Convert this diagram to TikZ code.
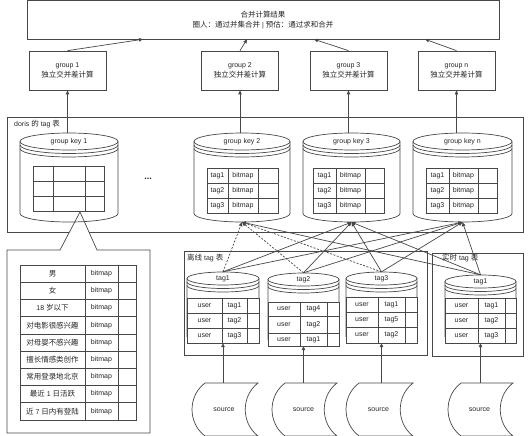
\documentclass[tikz,border=0pt]{standalone}
\usepackage{fontspec}
\setmainfont{Liberation Sans}
\newfontfamily\cjk[Scale=1.07]{Noto Sans CJK SC}
\newcommand{\zh}[1]{{\cjk #1}}
\usetikzlibrary{arrows.meta}

\tikzset{
  wire/.style={draw=black!72, line width=0.7pt},
  arr/.style={wire, -{Triangle[length=4pt,width=3.5pt]}},
  dasharr/.style={arr, dash pattern=on 2pt off 1.5pt},
  txt/.style={inner sep=0pt, font=\fontsize{7}{10}\selectfont, text=black!85},
  framed/.style={wire, txt, fill=white, align=center},
}

% cylinder: name, left, top, right, bottom, ry, label
\newcommand{\datastore}[7]{%
  \pgfmathsetmacro{\dsx}{(#2+#4)/2}
  \pgfmathsetmacro{\dsr}{(#4-#2)/2}
  \pgfmathsetmacro{\dsw}{#4-#2}
  \pgfmathsetmacro{\dsh}{#5-#3}
  \draw[wire] (#2,#3+#6) -- (#2,#5-#6) arc[start angle=180,end angle=0,x radius=\dsr,y radius=#6]
    -- (#4,#3+#6) arc[start angle=0,end angle=-180,x radius=\dsr,y radius=#6];
  \foreach \dso in {0,3.5,7}
    \draw[wire] (#2,#3+#6+\dso) arc[start angle=180,end angle=0,x radius=\dsr,y radius=#6];
  \node[inner sep=0pt,minimum width=\dsw pt,minimum height=\dsh pt] (#1) at ({\dsx},{(#3+#5)/2}) {};
  \node[txt] (#1-lbl) at ({\dsx},#3+#6) {#7};
}

% stored data: name, left, right
\newcommand{\sourceshape}[3]{%
  \draw[wire] (#2+13,383) -- (#3,383) .. controls (#3-17,396) and (#3-17,423) .. (#3,436)
    -- (#2+13,436) .. controls (#2-4.3,423) and (#2-4.3,396) .. (#2+13,383) -- cycle;
  \node[txt,minimum width=40pt,minimum height=53pt] (#1) at ({(#2+#3)/2-1},409.5) {source};
}

\begin{document}
\begin{tikzpicture}[x=1pt,y=-1pt]
\useasboundingbox (0,0) rectangle (528,436);

% result and groups
\node[framed,minimum width=472pt,minimum height=38.5pt] (res) at (263,20)
  {\zh{合并计算结果}\\\zh{圈人：通过并集合并} | \zh{预估：通过求和合并}};
\coordinate (res-1) at (143,39.25);
\coordinate (res-2) at (247,39.25);
\coordinate (res-3) at (314,39.25);
\coordinate (res-n) at (425,39.25);

\node[framed,minimum width=77pt,minimum height=39pt] (g1) at (67.5,70.5) {group 1\\\zh{独立交并差计算}};
\node[framed,minimum width=77pt,minimum height=39pt] (g2) at (240,70.5) {group 2\\\zh{独立交并差计算}};
\node[framed,minimum width=77pt,minimum height=39pt] (g3) at (348.5,70.5) {group 3\\\zh{独立交并差计算}};
\node[framed,minimum width=77pt,minimum height=39pt] (gn) at (456.5,70.5) {group n\\\zh{独立交并差计算}};

\draw[arr] (g1.north) -- (res-1);
\draw[arr] (g2.north) -- (res-2);
\draw[arr] (g3.north) -- (res-3);
\draw[arr] (gn.north) -- (res-n);

% doris tag table
\draw[wire] (7,117) rectangle (523,232);
\node[txt,anchor=west] (doris) at (14,124) {doris \zh{的} tag \zh{表}};

% callout with the tag list
\draw[wire,fill=white] (7,250) -- (60,250) -- (80,212) -- (97,250) -- (150,250)
  -- (150,433) -- (7,433) -- cycle;
\draw[wire] (20,265) rectangle (136,420);
\draw[wire] (85,265) -- (85,420) (118,265) -- (118,420);
\foreach \lab [count=\i] in {\zh{男},\zh{女},18 \zh{岁以下},\zh{对电影很感兴趣},\zh{对母婴不感兴趣},
    \zh{擅长情感类创作},\zh{常用登录地北京},\zh{最近} 1 \zh{日活跃},\zh{近} 7 \zh{日内有登陆}} {
  \draw[wire] (20,{265+17.22*\i}) -- (136,{265+17.22*\i});
  \node[txt] (attr\i) at (52.5,{256.4+17.22*\i}) {\lab};
  \node[txt] (bm\i) at (101.5,{256.4+17.22*\i}) {bitmap};
}

% group key cylinders
\datastore{gk1}{20}{133}{118}{222}{8.5}{group key 1}
\draw[wire] (33,166) rectangle (104,211);
\draw[wire] (53,166) -- (53,211) (85,166) -- (85,211) (33,181) -- (104,181) (33,196) -- (104,196);

\node[txt,font=\bfseries\fontsize{9}{10}\selectfont] (dots) at (148,179) {...};

\datastore{gk2}{194}{133}{290}{222}{8.5}{group key 2}
\datastore{gk3}{303}{133}{400}{222}{8.5}{group key 3}
\datastore{gkn}{413}{133}{512}{222}{8.5}{group key n}

\foreach \gk/\xa/\xb/\xc/\xd in {gk2/207/228/258/278,gk3/313/336/365/384,gkn/426/449/478/497} {
  \draw[wire] (\xa,168) rectangle (\xd,213);
  \draw[wire] (\xb,168) -- (\xb,213) (\xc,168) -- (\xc,213) (\xa,183) -- (\xd,183) (\xa,198) -- (\xd,198);
  \foreach \i in {1,2,3} {
    \node[txt] (\gk-t\i) at ({(\xa+\xb)/2},160.5+15*\i) {tag\i};
    \node[txt] (\gk-b\i) at ({(\xb+\xc)/2},160.5+15*\i) {bitmap};
  }
}

\foreach \g/\k in {g1/gk1,g2/gk2,g3/gk3,gn/gkn}
  \draw[arr] (\g.south |- \k.north) -- (\g.south);

% offline and realtime tag tables
\draw[wire] (184,251) rectangle (427,355);
\node[txt,anchor=west] (off) at (187,258) {\zh{离线} tag \zh{表}};
\draw[wire] (432,253) rectangle (523,356);
\node[txt,anchor=west] (rt) at (442,258) {\zh{实时} tag \zh{表}};

\datastore{tg1}{187}{272}{259}{343}{6.5}{tag1}
\draw[wire,fill=white] (187,298) rectangle (259,343);
\draw[wire] (222,298) -- (222,343) (247,298) -- (247,343);
\foreach \ya/\yb/\tg [count=\i] in {298/313/tag1,313/328/tag2,328/343/tag3} {
  \draw[wire] (187,\yb) -- (259,\yb);
  \node[txt] (tg1-u\i) at (204.5,{(\ya+\yb)/2}) {user};
  \node[txt] (tg1-t\i) at (234.5,{(\ya+\yb)/2}) {\tg};
}

\datastore{tg2}{268}{273}{339}{346}{6.5}{tag2}
\draw[wire,fill=white] (268,302) rectangle (339,346);
\draw[wire] (300,302) -- (300,346) (327,302) -- (327,346);
\foreach \ya/\yb/\tg [count=\i] in {302/316/tag4,316/333/tag2,333/346/tag1} {
  \draw[wire] (268,\yb) -- (339,\yb);
  \node[txt] (tg2-u\i) at (284,{(\ya+\yb)/2}) {user};
  \node[txt] (tg2-t\i) at (313.5,{(\ya+\yb)/2}) {\tg};
}

\datastore{tg3}{346}{272}{417}{343}{6.5}{tag3}
\draw[wire,fill=white] (346,297) rectangle (417,343);
\draw[wire] (378,297) -- (378,343) (405,297) -- (405,343);
\foreach \ya/\yb/\tg [count=\i] in {297/312/tag1,312/327/tag5,327/343/tag2} {
  \draw[wire] (346,\yb) -- (417,\yb);
  \node[txt] (tg3-u\i) at (362,{(\ya+\yb)/2}) {user};
  \node[txt] (tg3-t\i) at (391.5,{(\ya+\yb)/2}) {\tg};
}

\datastore{rt1}{445}{275}{516}{343}{6.5}{tag1}
\draw[wire,fill=white] (445,298) rectangle (516,343);
\draw[wire] (478,298) -- (478,343) (505,298) -- (505,343);
\foreach \ya/\yb/\tg [count=\i] in {298/313/tag1,313/328/tag2,328/343/tag3} {
  \draw[wire] (445,\yb) -- (516,\yb);
  \node[txt] (rt1-u\i) at (461.5,{(\ya+\yb)/2}) {user};
  \node[txt] (rt1-t\i) at (491.5,{(\ya+\yb)/2}) {\tg};
}

% tag tables into group keys
\foreach \tb in {tg1,tg2,tg3}
  \draw[dasharr] (\tb.north) -- (gk2.south);
\draw[arr] (rt1.north) -- (gk2.south);
\foreach \tb in {tg1,tg2,tg3,rt1} {
  \draw[arr] (\tb.north) -- (gk3.south);
  \draw[arr] (\tb.north) -- (gkn.south);
}

% sources
\sourceshape{s1}{192}{258}
\sourceshape{s2}{272}{337}
\sourceshape{s3}{346}{413}
\sourceshape{s4}{448}{513}
\draw[arr] (s1.north -| tg1.south) -- (tg1.south);
\draw[arr] (s2.north -| tg2.south) -- (tg2.south);
\draw[arr] (s3.north -| tg3.south) -- (tg3.south);
\draw[arr] (s4.north -| rt1.south) -- (rt1.south);
\end{tikzpicture}
\end{document}
